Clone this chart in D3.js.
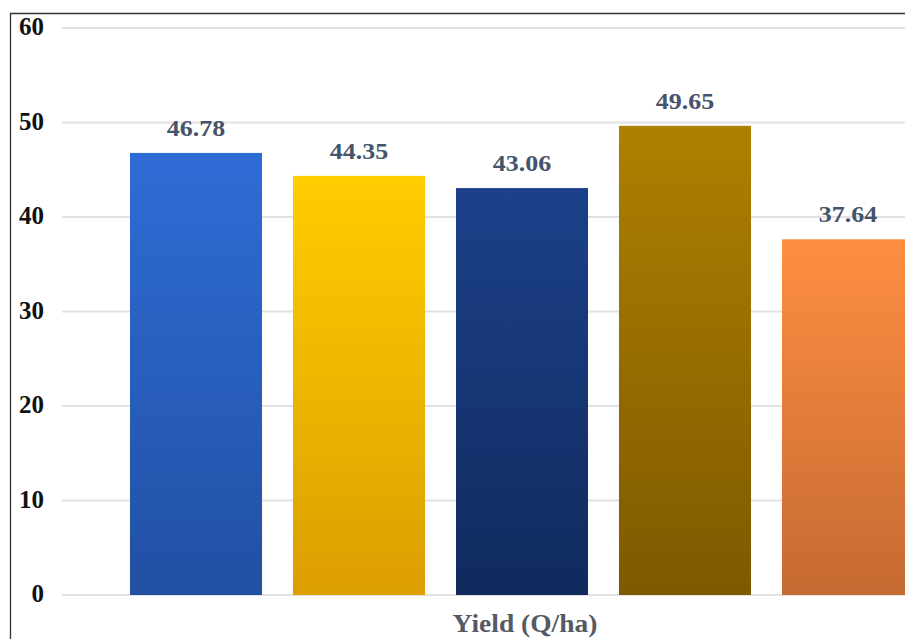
<!DOCTYPE html>
<html><head><meta charset="utf-8">
<script src="https://cdn.jsdelivr.net/npm/d3@7"></script>
<style>html,body{margin:0;padding:0;background:#fff;overflow:hidden}</style>
</head><body>
<svg id="c" width="905" height="639"></svg>
<script>
const categories = ["T1","T2","T3","T4","T5"];
const values = [46.78, 44.35, 43.06, 49.65, 37.64];
const yTicks = [0,10,20,30,40,50,60];
const axisTitle = "Yield (Q/ha)";
const gradTop = ["#2f6cd6","#ffcd00","#1c418a","#ae8000","#ff8e42"];
const gradBottom = ["#2150a3","#dc9e00","#102a5d","#7e5900","#c56a32"];

const svg = d3.select("#c");
const W = 905, H = 639;
const FONT = "'Liberation Serif','Times New Roman',serif";
const y = d3.scaleLinear().domain([0,60]).range([595,28]);
const x = d3.scaleBand().domain(categories).range([114.5, 929.5]).paddingInner(0.19).paddingOuter(0.095);

const defs = svg.append("defs");
categories.forEach((c,i)=>{
  const g = defs.append("linearGradient").attr("id","g"+i).attr("x1",0).attr("y1",0).attr("x2",0).attr("y2",1);
  g.append("stop").attr("offset","0%").attr("stop-color",gradTop[i]);
  g.append("stop").attr("offset","100%").attr("stop-color",gradBottom[i]);
});

// frame
svg.append("line").attr("x1",10).attr("x2",W).attr("y1",13.5).attr("y2",13.5).attr("stroke","#333").attr("stroke-width",1.3);
svg.append("line").attr("x1",10.5).attr("x2",10.5).attr("y1",13).attr("y2",H).attr("stroke","#333").attr("stroke-width",1.3);

// gridlines
svg.append("g").selectAll("line").data(yTicks).join("line")
  .attr("x1",62).attr("x2",W).attr("y1",d=>y(d)).attr("y2",d=>y(d))
  .attr("stroke","#e2e2e2").attr("stroke-width",2);

// y labels
svg.append("g").selectAll("text").data(yTicks).join("text")
  .attr("x",44).attr("y",d=>y(d)+7)
  .attr("text-anchor", "end")
  .attr("font-family",FONT).attr("font-weight","bold")
  .attr("font-size",25).attr("fill","#111").text(d=>d);

// bars
svg.append("g").selectAll("rect").data(values).join("rect")
  .attr("x",(d,i)=>x(categories[i])).attr("width",x.bandwidth())
  .attr("y",d=>y(d)).attr("height",d=>y(0)-y(d))
  .attr("fill",(d,i)=>`url(#g${i})`);

// value labels
svg.append("g").selectAll("text").data(values).join("text")
  .attr("transform",(d,i)=>`translate(${x(categories[i])+x.bandwidth()/2},${y(d)-17}) scale(1.13,1)`)
  .attr("text-anchor","middle")
  .attr("font-family",FONT).attr("font-weight","bold")
  .attr("font-size",23).attr("fill","#44546a").text(d=>d.toFixed(2));

// axis title
svg.append("text").attr("transform","translate(525,632) scale(1.1,1)").attr("text-anchor","middle")
  .attr("font-family",FONT).attr("font-weight","bold")
  .attr("font-size",25).attr("fill","#555a63").text(axisTitle);
</script>
</body></html>
